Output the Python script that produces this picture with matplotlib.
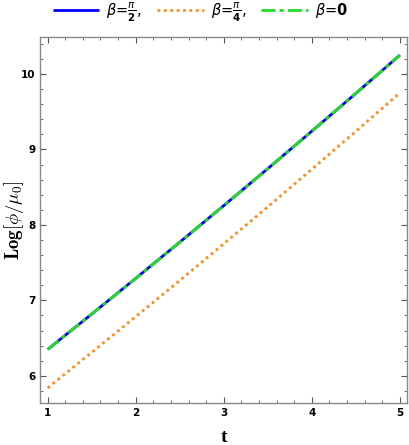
import matplotlib
matplotlib.use("Agg")
import matplotlib.pyplot as plt
from matplotlib.ticker import MultipleLocator

t = [1.0, 1.5, 2.0, 2.5, 3.0, 3.5, 4.0, 4.5, 5.0]
beta_pi2 = [6.35, 6.818, 7.292, 7.771, 8.256, 8.746, 9.242, 9.743, 10.25]
beta_pi4 = [5.84, 6.31, 6.785, 7.263, 7.75, 8.24, 8.738, 9.24, 9.75]
beta_0 = [6.35, 6.818, 7.292, 7.771, 8.256, 8.746, 9.242, 9.743, 10.25]

labels = [r'$\beta$=$\frac{\pi}{\mathbf{2}}$,', r'$\beta$=$\frac{\pi}{\mathbf{4}}$,', r'$\beta$=$\mathbf{0}$']

plt.rcParams['mathtext.fontset'] = 'dejavusans'
fig = plt.figure(figsize=(4.09, 4.45), dpi=100)
ax = fig.add_axes([0.0978, 0.0944, 0.8972, 0.8225])

l1, = ax.plot(t, beta_pi2, color='#0000ff', lw=2.0, solid_capstyle='butt')
l2, = ax.plot(t, beta_pi4, color='#ff8c1a', lw=2.0, linestyle=(0, (1, 1.3)))
l3, = ax.plot(t, beta_0, color='#22dd22', lw=2.0, linestyle=(0, (5, 1.5, 1.5, 1.5)))

ax.set_xlim(0.913, 5.08)
ax.set_ylim(5.64, 10.49)
ax.xaxis.set_major_locator(MultipleLocator(1))
ax.xaxis.set_minor_locator(MultipleLocator(0.2))
ax.yaxis.set_major_locator(MultipleLocator(1))
ax.yaxis.set_minor_locator(MultipleLocator(0.2))
ax.tick_params(which='both', direction='in', top=True, right=True, colors='#555555', labelcolor='black', labelsize=7.5)
ax.tick_params(which='major', length=4, width=0.8)
ax.tick_params(which='minor', length=2.2, width=0.6)
for lab in ax.get_xticklabels() + ax.get_yticklabels():
    lab.set_fontweight('bold')
for s in ax.spines.values():
    s.set_color('#888888')
    s.set_linewidth(1.0)

ax.set_xlabel('t', family='Liberation Serif', fontweight='bold', fontsize=14, labelpad=8)
ax.set_ylabel(r'$\mathbf{Log}[\phi/\mu_0]$', fontsize=13.5)
ax.yaxis.label.set_math_fontfamily('cm')
ax.yaxis.set_label_coords(-0.038, 0.5)

leg = fig.legend([l1, l2, l3], labels, loc='center', bbox_to_anchor=(0.49, 0.973), ncol=3, frameon=False,
                 handlelength=3.2, columnspacing=1.0, handletextpad=0.5, prop={'size': 10.5})
fig.savefig('out.png', dpi=100)
